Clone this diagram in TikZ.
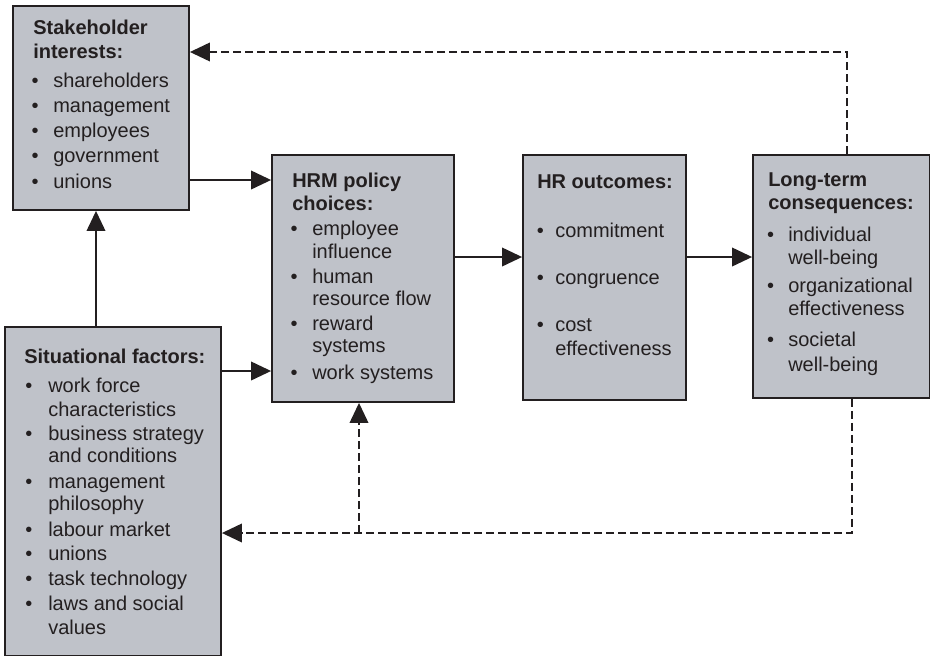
\documentclass[tikz,border=0pt]{standalone}
\usepackage{fontspec}
\setmainfont{Liberation Sans}
\usetikzlibrary{arrows.meta,fit}
\definecolor{boxgray}{RGB}{191,194,201}
\definecolor{ink}{RGB}{35,31,32}
\newcommand\mybul{\llap{\textbullet\hspace{\bgap}}}
\def\bgap{10.9pt}
\begin{document}
\begin{tikzpicture}[x=0.75pt,y=-0.75pt,
  box/.style={draw=ink,line width=1.4pt,fill=boxgray,inner sep=0pt},
  ttl/.style={anchor=base west,inner sep=0pt,text=ink,font=\fontsize{15}{18}\selectfont\bfseries},
  itm/.style={anchor=base west,inner sep=0pt,text=ink,font=\fontsize{15}{18}\selectfont},
  arr/.style={draw=ink,line width=1.1pt,-{Triangle[length=15pt,width=14pt]}},
  darr/.style={arr,dash pattern=on 6pt off 3pt}]
\useasboundingbox (0,0) rectangle (931,657);

% boxes
\node[box,fit={(13,6)(189,210)}] (sh) {};
\node[box,fit={(272,155)(454,402)}] (hrm) {};
\node[box,fit={(523,155)(686,400)}] (hro) {};
\node[box,fit={(753,155)(929.5,398)}] (lt) {};
\node[box,fit={(5,327)(221,655.5)}] (sit) {};

% helper coordinates
\coordinate (c52) at (0,52);
\coordinate (c180) at (0,180);
\coordinate (c257) at (0,257);
\coordinate (c371) at (0,371);
\coordinate (c533) at (0,533);
\coordinate (x96) at (96,0);
\coordinate (x359) at (359,0);
\coordinate (x847) at (847,0);
\coordinate (x852) at (852,0);

% Stakeholder interests
\node[ttl] (sh-t1) at (33,34) {Stakeholder};
\node[ttl] (sh-t2) at (33,58) {interests:};
\def\bgap{10.9pt}
\foreach \yy/\tx [count=\i] in {87/shareholders,112/management,137/employees,162/government,188/unions}
  \node[itm] (sh-i\i) at (53,\yy) {\mybul\tx};

% HRM policy choices
\node[ttl] (hrm-t1) at (292,187) {HRM policy};
\node[ttl] (hrm-t2) at (292,210) {choices:};
\def\bgap{10.9pt}
\foreach \yy/\tx [count=\i] in {235.7/\mybul employee,258.3/influence,283.3/\mybul human,305.7/resource flow,330/\mybul reward,352.3/systems,379.3/\mybul work systems}
  \node[itm] (hrm-i\i) at (312,\yy) {\tx};

% HR outcomes
\node[ttl] (hro-t1) at (537,188) {HR outcomes:};
\def\bgap{8.6pt}
\foreach \yy/\tx [count=\i] in {237.3/\mybul commitment,284.3/\mybul congruence,331.7/\mybul cost,355/effectiveness}
  \node[itm] (hro-i\i) at (555,\yy) {\tx};

% Long-term consequences
\node[ttl] (lt-t1) at (768,186) {Long-term};
\node[ttl] (lt-t2) at (768,209.5) {consequences:};
\def\bgap{10.6pt}
\foreach \yy/\tx [count=\i] in {241/\mybul individual,264.3/well-being,292.7/\mybul organizational,315/effectiveness,346.7/\mybul societal,371.7/well-being}
  \node[itm] (lt-i\i) at (788,\yy) {\tx};

% Situational factors
\node[ttl] (sit-t1) at (24,363) {Situational factors:};
\def\bgap{11.9pt}
\foreach \yy/\tx [count=\i] in {392.7/\mybul work force,416/characteristics,440/\mybul business strategy,462.7/and conditions,488.3/\mybul management,510/philosophy,536/\mybul labour market,560/\mybul unions,585/\mybul task technology,610/\mybul laws and social,634.3/values}
  \node[itm] (sit-i\i) at (48,\yy) {\tx};

% solid connectors
\draw[arr] (sh.east |- c180) -- (hrm.west |- c180);
\draw[arr] (hrm.east |- c257) -- (hro.west |- c257);
\draw[arr] (hro.east |- c257) -- (lt.west |- c257);
\draw[arr] (sit.east |- c371) -- (hrm.west |- c371);
\draw[arr] (sit.north -| x96) -- (sh.south -| x96);

% dashed feedback connectors
\draw[darr] (lt.north -| x847) |- (sh.east |- c52);
\draw[darr] (lt.south -| x852) |- (sit.east |- c533);
\draw[darr] (x359 |- c533) -- (hrm.south -| x359);
\end{tikzpicture}
\end{document}
